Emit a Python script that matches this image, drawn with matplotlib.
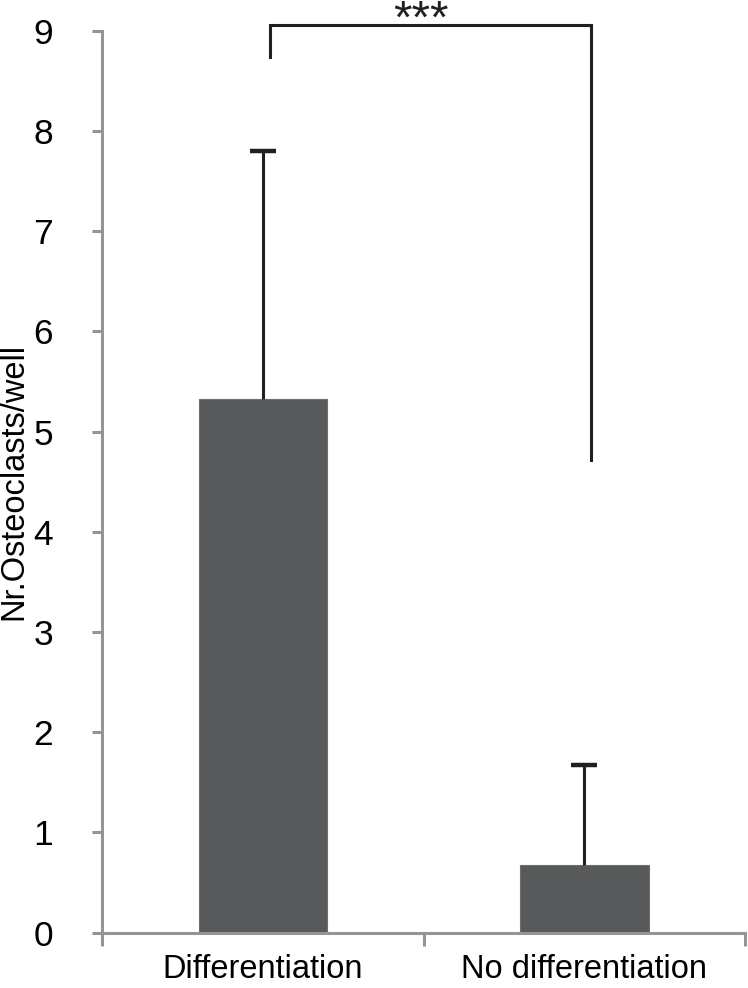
import matplotlib.pyplot as plt

plt.rcParams['font.family'] = ['Liberation Sans', 'DejaVu Sans']

categories = ['Differentiation', 'No differentiation']
means = [5.32, 0.68]
err_up = [2.48, 0.99]

# significance bracket (data units)
bracket_x = [0.52, 1.52]
bracket_top = 9.06
bracket_left_end = 8.74
bracket_right_end = 4.72
stars = '***'

fig = plt.figure(figsize=(7.48, 9.88), dpi=100)
ax = fig.add_axes([0.137, 0.056, 0.859, 0.913])

xpos = [0.5, 1.5]
ax.bar(xpos, means, width=0.4, color='#58595b', edgecolor='#6d6e70',
       linewidth=0.8, zorder=2)
eb = ax.errorbar(xpos, means, yerr=[[0, 0], err_up], fmt='none',
                 ecolor='#231f20', elinewidth=2.2, capsize=9.5, capthick=3.2,
                 zorder=3)
# only the upper caps
eb[1][0].set_visible(False)

ax.plot([bracket_x[0], bracket_x[0], bracket_x[1]],
        [bracket_left_end, bracket_top, bracket_top],
        color='#231f20', lw=2.2, clip_on=False, solid_joinstyle='miter')
ax.plot([bracket_x[1], bracket_x[1]], [bracket_top, bracket_right_end],
        color='#231f20', lw=2.2, clip_on=False)
ax.text(0.99, 8.98, stars, ha='center', va='baseline', fontsize=34,
        color='#231f20', clip_on=False)

ax.set_xlim(0, 2)
ax.set_ylim(0, 9)
ax.set_yticks(range(10))
ax.set_xticks([0, 1, 2])
ax.set_xticklabels([])
ax.set_xticks(xpos, minor=True)
ax.set_xticklabels(categories, minor=True, fontsize=23.5)
ax.tick_params(axis='x', which='minor', length=0, pad=15)
ax.tick_params(axis='x', which='major', length=9, width=2.2,
               color='#939598', direction='out')
ax.tick_params(axis='y', length=7.5, width=2.2, color='#939598',
               labelsize=25.5, pad=28)

for s in ['top', 'right']:
    ax.spines[s].set_visible(False)
for s in ['left', 'bottom']:
    ax.spines[s].set_color('#939598')
    ax.spines[s].set_linewidth(2.2)

ax.set_ylabel('Nr.Osteoclasts/well', fontsize=23.5)
ax.yaxis.set_label_coords(-0.113, 0.5)

plt.savefig('out.png', dpi=100)
